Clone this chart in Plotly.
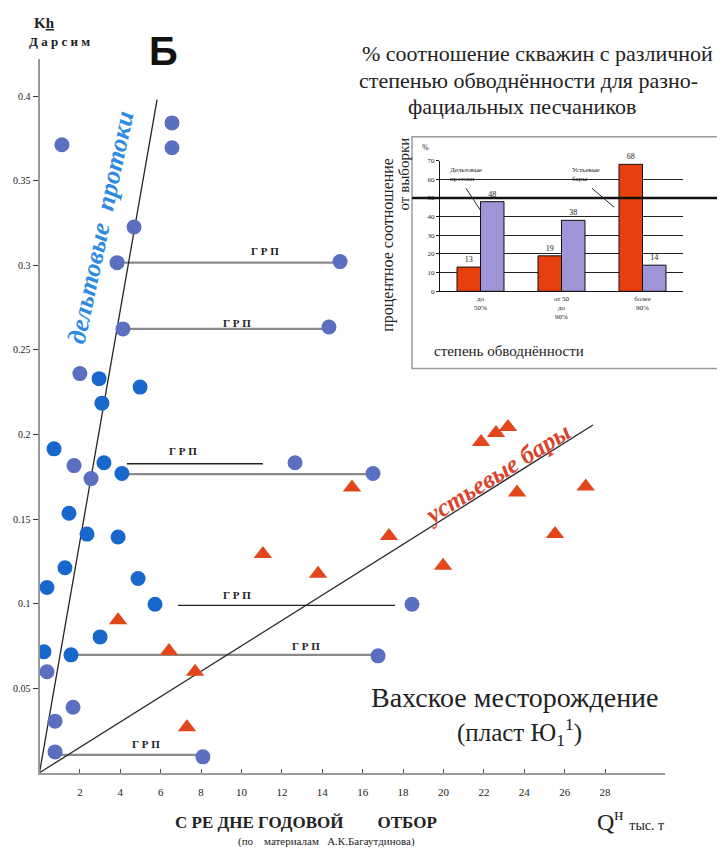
import plotly.graph_objects as go

# The page body adds an 8px margin, so the figure is drawn 8px smaller and
# every reference pixel position is shifted by that offset.
OFF = 8
W, H = 725 - OFF, 853 - OFF

# ---------------- main chart data (Q, thousand t ; Kh, Darcy*m) ----------------
delta_bright_q = [2.95, 4.98, 3.09, 0.72, 3.19, 4.08, 1.46, 2.35, 3.89, 1.26, 4.88, 0.37, 5.72, 3.00, 0.22, 1.56]
delta_bright_k = [0.233, 0.228, 0.2185, 0.1915, 0.1833, 0.1769, 0.1534, 0.1411, 0.1394, 0.1212, 0.1148, 0.1095, 0.0996, 0.0803, 0.0715, 0.0697]

delta_slate_q = [1.11, 6.56, 6.56, 4.68, 3.84, 14.88, 4.13, 14.33, 2.00, 1.71, 2.55, 12.65, 16.51, 18.44, 16.76, 0.37, 1.66, 0.77, 0.77, 8.09]
delta_slate_k = [0.3713, 0.3842, 0.3695, 0.3227, 0.3016, 0.3022, 0.2624, 0.2635, 0.236, 0.1816, 0.1739, 0.1833, 0.1769, 0.0996, 0.0691, 0.0597, 0.0387, 0.0305, 0.0123, 0.0094]

bars_q = [3.89, 6.41, 7.70, 7.30, 11.06, 13.79, 15.47, 17.30, 19.98, 21.86, 22.60, 23.19, 23.64, 25.52, 27.04]
bars_k = [0.0902, 0.0720, 0.0597, 0.0269, 0.1294, 0.1177, 0.1687, 0.1400, 0.1224, 0.1956, 0.2009, 0.2044, 0.1657, 0.1411, 0.1693]

trend_delta_q = [0, 5.82]
trend_delta_k = [0, 0.398]
trend_bars_q = [0, 27.4]
trend_bars_k = [0, 0.2056]

# hydraulic fracturing (ГРП) segments
grp_q0 = [3.84, 4.13, 4.33, 4.08, 6.86, 1.56, 0.77]
grp_q1 = [14.88, 14.33, 11.06, 16.51, 17.60, 16.76, 8.09]
grp_k = [0.3016, 0.2624, 0.1827, 0.1765, 0.0990, 0.0697, 0.0105]
grp_dark = [False, False, True, False, True, False, False]

x_ticks = [2, 4, 6, 8, 10, 12, 14, 16, 18, 20, 22, 24, 26, 28]
y_ticks = [0.05, 0.1, 0.15, 0.2, 0.25, 0.3, 0.35, 0.4]
y_tick_text = ["0.05", "0.1", "0.15", "0.2", "0.25", "0.3", "0.35", "0.4"]

# ---------------- inset data ----------------
inset_cats = ["до<br>50%", "от 50<br>до<br>90%", "более<br>90%"]
inset_bars = [13, 19, 68]   # устьевые бары
inset_delta = [48, 38, 14]  # дельтовые протоки
inset_ticks = [0, 10, 20, 30, 40, 50, 60, 70]


def P(x, y):
    return (x - OFF) / W, 1 - (y - OFF) / H


SERIF = "Liberation Serif"
fig = go.Figure()

for a, b, k, dark in zip(grp_q0, grp_q1, grp_k, grp_dark):
    fig.add_trace(go.Scatter(x=[a, b], y=[k, k], mode="lines",
                             line=dict(color="#222" if dark else "#8a8a8a", width=1.3 if dark else 2.2),
                             hoverinfo="skip", showlegend=False))

fig.add_trace(go.Scatter(x=trend_delta_q, y=trend_delta_k, mode="lines",
                         line=dict(color="#2a2420", width=1.3), showlegend=False))
fig.add_trace(go.Scatter(x=trend_bars_q, y=trend_bars_k, mode="lines",
                         line=dict(color="#2a2a2a", width=1.3), showlegend=False))

fig.add_trace(go.Scatter(x=delta_slate_q, y=delta_slate_k, mode="markers",
                         marker=dict(color="#5b6fc1", size=15, line=dict(width=0)), showlegend=False))
fig.add_trace(go.Scatter(x=delta_bright_q, y=delta_bright_k, mode="markers",
                         marker=dict(color="#1668cc", size=15, line=dict(width=0)), showlegend=False))
fig.add_trace(go.Scatter(x=bars_q, y=bars_k, mode="markers",
                         marker=dict(color="#e2461a", size=16, symbol="triangle-up", line=dict(width=0)),
                         showlegend=False))

fig.add_trace(go.Bar(x=inset_cats, y=inset_bars, xaxis="x2", yaxis="y2",
                     marker=dict(color="#e8400c", line=dict(color="#111", width=1)),
                     text=inset_bars, textposition="outside", textfont=dict(size=8, family=SERIF, color="#222"),
                     cliponaxis=False, showlegend=False))
fig.add_trace(go.Bar(x=inset_cats, y=inset_delta, xaxis="x2", yaxis="y2",
                     marker=dict(color="#9d95d6", line=dict(color="#111", width=1)),
                     text=inset_delta, textposition="outside", textfont=dict(size=8, family=SERIF, color="#222"),
                     cliponaxis=False, showlegend=False))

x_dom = [(39.5 - OFF) / W, (665 - OFF) / W]
y_dom = [1 - (776 - OFF) / H, 1 - (55 - OFF) / H]

fig.update_layout(
    width=W, height=H,
    margin=dict(l=0, r=0, t=0, b=0),
    paper_bgcolor="white", plot_bgcolor="rgba(0,0,0,0)",
    barmode="group", bargap=0.42, bargroupgap=0.0,
    xaxis=dict(domain=x_dom, range=[0, (665 - 39.5) / 20.2], showgrid=False, zeroline=False,
               showline=True, linecolor="#9a9a9a", linewidth=2,
               tickvals=x_ticks, ticktext=[str(v) for v in x_ticks],
               ticks="inside", ticklen=4, tickcolor="#555", ticklabelstandoff=8,
               tickfont=dict(family=SERIF, size=11, color="#222")),
    yaxis=dict(domain=y_dom, range=[0, (776 - 55) / 1707.5], showgrid=False, zeroline=False,
               showline=True, linecolor="#9a9a9a", linewidth=2,
               tickvals=y_ticks, ticktext=y_tick_text,
               ticks="outside", ticklen=5, tickcolor="#333",
               tickfont=dict(family=SERIF, size=10, color="#222")),
    xaxis2=dict(domain=[(440 - OFF) / W, (683 - OFF) / W], anchor="y2", showgrid=False, zeroline=False,
                showline=True, linecolor="#111", linewidth=1, ticks="",
                tickfont=dict(family=SERIF, size=7, color="#222")),
    yaxis2=dict(domain=[1 - (290 - OFF) / H, 1 - (158 - OFF) / H], anchor="x2", range=[0, 70],
                tickvals=inset_ticks, showgrid=True, gridcolor="#222", gridwidth=1,
                zeroline=False, showline=True, linecolor="#111", linewidth=1,
                ticks="outside", ticklen=3, tickcolor="#111",
                tickfont=dict(family=SERIF, size=7, color="#222")),
)

shapes = []
x0, y0 = P(412, 134)
x1, y1 = P(718, 368)
shapes.append(dict(type="rect", xref="paper", yref="paper", x0=x0, y0=y1, x1=x1, y1=y0,
                   line=dict(color="#9a9a9a", width=1.5), fillcolor="rgba(0,0,0,0)", layer="below"))
shapes.append(dict(type="line", xref="paper", yref="y2", x0=x0, x1=x1, y0=50, y1=50,
                   line=dict(color="#111", width=2.5)))
for (a, b), (c, d) in [((466, 186), (481, 209)), ((592, 186), (614, 205))]:
    ax, ay = P(a, b)
    cx, cy = P(c, d)
    shapes.append(dict(type="line", xref="paper", yref="paper", x0=ax, y0=ay, x1=cx, y1=cy,
                       line=dict(color="#222", width=1)))
fig.update_layout(shapes=shapes)

ann = []


def text(x, y, s, size, color="#222", family=SERIF, angle=0, xanchor="center", align="center"):
    px, py = P(x, y)
    ann.append(dict(x=px, y=py, xref="paper", yref="paper", text=s, showarrow=False,
                    font=dict(family=family, size=size, color=color), textangle=angle,
                    xanchor=xanchor, yanchor="middle", align=align))


text(44, 19, "<b>K<u>h</u></b>", 15)
text(59, 38, "<b>Д а р с и м</b>", 13)
text(163, 47, "<b>Б</b>", 40, color="#111", family="Liberation Sans")

for (x, y) in [(265, 249), (237, 322), (183, 451), (237, 597), (306, 648), (146, 747)]:
    text(x, y, "<b>Г Р П</b>", 11)

text(101, 226, "<b><i>дельтовые  протоки</i></b>", 26, color="#2e8be0", angle=-78)
text(497, 474, "<b><i>устьевые бары</i></b>", 25, color="#d9452b", angle=-32)

text(537, 50, "% соотношение скважин с различной", 22)
text(528, 77, "степенью обводнённости для разно-", 22)
text(522, 103, "фациальных песчаников", 22)

text(388, 243, "процентное соотношение", 16, angle=-90)
text(404, 172, "от выборки", 15, angle=-90)
text(509, 350, "степень обводнённости", 15)
text(425, 145, "%", 8)
text(448, 172, "Дельтовые<br>протоки", 7, xanchor="left", align="left")
text(570, 172, "Устьевые<br>бары", 7, xanchor="left", align="left")

text(515, 700, "Вахское месторождение", 28)
text(519, 735, "(пласт Ю<sub>1</sub><sup>1</sup>)", 25)

text(306, 826, "<b>С РЕ ДНЕ ГОДОВОЙ        ОТБОР</b>", 17)
text(326, 845, "(по    материалам   А.К.Багаутдинова)", 11)
text(630, 824, "Q<sup>н</sup> <span style='font-size:14px'>тыс. т</span>", 24)

fig.update_layout(annotations=ann)
fig.write_html("out.html")
